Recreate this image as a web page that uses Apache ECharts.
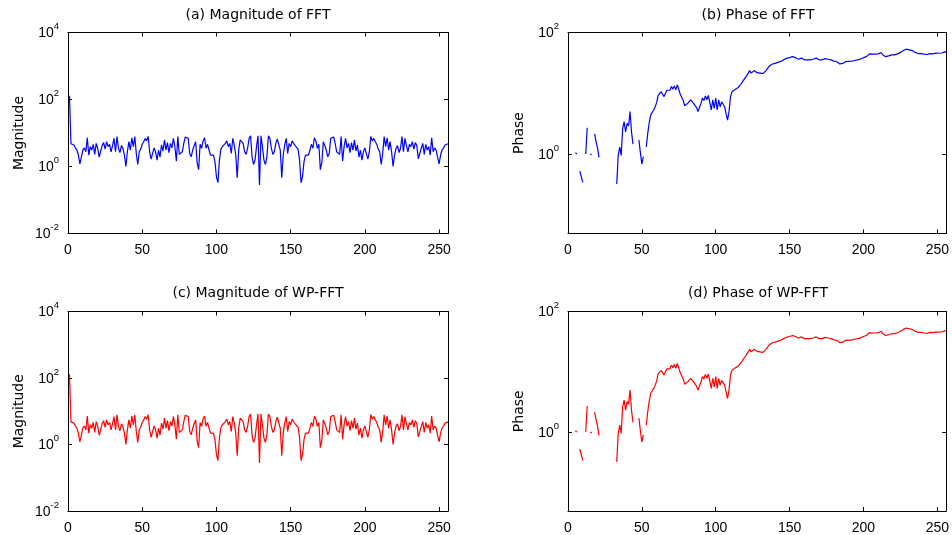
<!DOCTYPE html>
<html><head><meta charset="utf-8">
<script src="https://cdn.jsdelivr.net/npm/echarts@6/dist/echarts.min.js"></script>
<style>html,body{margin:0;padding:0;background:#fff}#c{width:952px;height:535px}</style>
</head><body><div id="c"></div>
<script>
// Magnitude of FFT, bins 1..256
const magnitudeFFT = [
130, 4.8, 4.6, 4.4, 3.6, 3.1, 2.2, 1.2, 1.9, 3.1,
3.6, 2.75, 7.2, 2.2, 3.9, 3.1, 4.6, 2.3, 4.9, 3.5,
1.9, 1.7, 4.2, 5.2, 3.3, 5.5, 3.9, 4.6, 2.75, 4.2,
6.9, 2.75, 7.8, 3.5, 2.6, 4.2, 3.5, 2.2, 1.0, 2.75,
5.5, 3.1, 7.2, 3.9, 7.8, 2.45, 1.15, 2.75, 3.3, 4.6,
5.5, 6.9, 5.8, 7.9, 2.75, 1.65, 2.45, 3.6, 2.75, 1.55,
3.1, 1.9, 4.4, 2.9, 6.2, 3.1, 5.2, 2.6, 4.9, 3.6,
6.9, 3.9, 1.45, 7.8, 2.3, 2.45, 2.75, 4.9, 7.6, 7.2,
6.9, 2.45, 1.95, 3.1, 4.2, 5.5, 1.3, 0.8, 4.6, 3.5,
5.8, 7.2, 3.5, 4.6, 3.1, 2.2, 2.45, 2.2, 1.4, 0.5,
0.33, 1.55, 3.3, 3.9, 4.2, 4.9, 5.8, 3.9, 4.9, 2.45,
6.9, 4.4, 2.2, 0.46, 3.1, 6.2, 6.6, 4.9, 2.75, 2.3,
3.5, 6.9, 8.3, 1.95, 1.15, 1.55, 3.9, 8.3, 0.28,
8.3, 3.9, 1.55, 1.15, 1.95, 8.3, 6.9, 3.5, 2.3, 2.75,
4.9, 6.6, 6.2, 3.1, 0.46, 2.2, 4.4, 6.9, 2.45, 4.9,
3.9, 5.8, 4.9, 4.2, 3.9, 3.3, 1.55, 0.33, 0.5, 1.4,
2.2, 2.45, 2.2, 3.1, 4.6, 3.5, 7.2, 5.8, 3.5, 4.6,
0.8, 1.3, 5.5, 4.2, 3.1, 1.95, 2.45, 6.9, 7.2, 7.6,
4.9, 2.75, 2.45, 2.3, 7.8, 1.45, 3.9, 6.9, 3.6, 4.9,
2.6, 5.2, 3.1, 6.2, 2.9, 4.4, 1.9, 3.1, 1.55, 2.75,
3.6, 2.45, 1.65, 2.75, 7.9, 5.8, 6.9, 5.5, 4.6, 3.3,
2.75, 1.15, 2.45, 7.8, 3.9, 7.2, 3.1, 5.5, 2.75, 1.0,
2.2, 3.5, 4.2, 2.6, 3.5, 7.8, 2.75, 6.9, 4.2, 2.75,
4.6, 3.9, 5.5, 3.3, 5.2, 4.2, 1.7, 1.9, 3.5, 4.9,
2.3, 4.6, 3.1, 3.9, 2.2, 7.2, 2.75, 3.6, 3.1, 1.9,
1.2, 2.2, 3.1, 3.6, 4.4, 4.6, 4.8
];
// Phase of FFT, bins 1..256 (null = not drawn on the log axis)
const phaseFFT = [
null, null, null, null, 1.05, 1.0, null, 0.52, 0.42, 0.34,
null, 1.0, 2.7, null, 1.0, 0.97, null, 2.15, 1.6, 1.25,
0.88, null, null, null, null, null, null, null, null, null,
null, null, 0.32, 0.95, 1.3, 0.95, 2.6, 3.4, 2.3, 3.2,
2.9, 5.0, 2.3, 1.45, null, null, null, 1.7, 1.05, 0.68,
0.9, null, 1.3, 2.2, 3.3, 4.4, 4.2, 5.3, 6.0, 7.0,
9.2, 9.6, 10.6, 10.0, 8.8, 10.0, 11.2, 12.0, 11.2, 12.9,
11.7, 13.2, 11.4, 13.7, 11.5, 9.6, 9.0, 7.6, 6.2, 5.8,
6.8, 6.4, 7.8, 7.3, 6.8, 6.4, 5.8, 5.0, 4.9, 6.8,
8.3, 7.6, 9.0, 7.8, 9.2, 9.3, 5.3, 7.8, 5.6, 8.3,
5.3, 7.8, 6.0, 7.2, 6.6, 6.0, 4.6, 3.6, 5.0, 8.8,
10.6, 11.3, 11.5, 11.6, 12.3, 13.0, 14.0, 15.2, 16.6, 17.8,
19.5, 21.4, 23.6, 21.4, 22.5, 23.6, 24.5, 21.8, 22.6, 21.4,
20.0, 21.0, 22.6, 23.6, 25.0, 27.5, 28.8, 30.0, 30.5, 31.0,
31.6, 32.2, 32.8, 33.4, 34.2, 35.5, 36.0, 37.5, 40.0, 38.5,
38.0, 40.0, 37.9, 38.5, 39.0, 36.3, 37.0, 37.9, 36.5, 35.5,
37.9, 35.5, 34.6, 35.5, 36.0, 36.3, 37.9, 37.9, 37.0, 35.5,
34.6, 35.5, 36.3, 37.2, 36.8, 36.3, 36.3, 35.5, 34.6, 33.8,
33.2, 33.0, 32.5, 30.4, 32.5, 31.0, 32.0, 33.2, 32.5, 33.5,
34.3, 33.6, 33.2, 34.6, 35.0, 35.5, 35.5, 36.5, 37.9, 38.5,
39.0, 40.0, 42.0, 44.5, 44.5, 44.0, 42.8, 44.0, 45.6, 44.5,
45.5, 46.9, 43.0, 41.2, 40.0, 40.6, 41.2, 42.0, 42.8, 42.8,
42.8, 44.0, 44.5, 45.6, 47.0, 48.6, 50.5, 51.8, 53.1, 52.5,
51.8, 51.0, 50.4, 48.6, 47.0, 45.6, 45.0, 46.9, 45.0, 42.8,
44.0, 45.6, 43.5, 42.8, 45.0, 46.9, 44.5, 45.6, 45.6, 46.9,
45.5, 44.5, 46.0, 46.9, 48.0, 47.5
];
// The WP-FFT panels show the same curves as the FFT panels
const magnitudeWPFFT = magnitudeFFT.slice();
const phaseWPFFT = phaseFFT.slice();

const xTicks = [0, 50, 100, 150, 200, 250];
const magTicks = [0.01, 1, 100, 10000];
const phaseTicks = [1, 100];
const titles = ['(a) Magnitude of FFT', '(b) Phase of FFT', '(c) Magnitude of WP-FFT', '(d) Phase of WP-FFT'];
const yNames = ['Magnitude', 'Phase', 'Magnitude', 'Phase'];

const FONT = '"Liberation Sans", Arial, Helvetica, sans-serif';
const TFONT = '"DejaVu Sans", "Liberation Sans", Arial, sans-serif';
const grids = [
  {left: 68, top: 32.5, width: 380, height: 201},
  {left: 568, top: 32.5, width: 380, height: 201},
  {left: 68, top: 311.5, width: 380, height: 200},
  {left: 568, top: 311.5, width: 380, height: 200}
];
const panels = [
  {data: magnitudeFFT, color: '#0000ff', min: 0.01, max: 10000, ticks: magTicks},
  {data: phaseFFT, color: '#0000ff', min: 0.049, max: 100, ticks: phaseTicks},
  {data: magnitudeWPFFT, color: '#ff0000', min: 0.01, max: 10000, ticks: magTicks},
  {data: phaseWPFFT, color: '#ff0000', min: 0.049, max: 100, ticks: phaseTicks}
];

const axisLine = {show: true, onZero: false, lineStyle: {color: '#000', width: 1}};
const xAxes = [], yAxes = [], series = [], title = [];
panels.forEach((p, i) => {
  const g = grids[i];
  xAxes.push({gridIndex: i, type: 'value', min: 0, max: 256, position: 'bottom',
    axisLine, splitLine: {show: false},
    axisTick: {inside: true, length: 4, customValues: xTicks, lineStyle: {color: '#000'}},
    axisLabel: {customValues: xTicks, color: '#000', fontSize: 14, fontFamily: FONT, margin: 10}});
  xAxes.push({gridIndex: i, type: 'value', min: 0, max: 256, position: 'top',
    axisLine, splitLine: {show: false},
    axisTick: {inside: true, length: 4, customValues: xTicks, lineStyle: {color: '#000'}},
    axisLabel: {show: false}});
  yAxes.push({gridIndex: i, type: 'log', logBase: 10, min: p.min, max: p.max, position: 'left',
    axisLine, splitLine: {show: false},
    axisTick: {inside: true, length: 4, customValues: p.ticks, lineStyle: {color: '#000'}},
    axisLabel: {customValues: p.ticks, margin: 9,
      formatter: v => '{b|10}{s|' + Math.round(Math.log10(v)) + '}',
      rich: {
        b: {fontSize: 14, fontFamily: FONT, color: '#000', padding: [2, 0, 0, 0]},
        s: {fontSize: 9.5, fontFamily: FONT, color: '#000', padding: [0, 0, 12, 0]}
      }},
    name: yNames[i], nameLocation: 'middle', nameGap: 42,
    nameTextStyle: {fontSize: 14, fontFamily: TFONT, color: '#000'}});
  yAxes.push({gridIndex: i, type: 'log', logBase: 10, min: p.min, max: p.max, position: 'right',
    axisLine, splitLine: {show: false},
    axisTick: {inside: true, length: 4, customValues: p.ticks, lineStyle: {color: '#000'}},
    axisLabel: {show: false}});
  series.push({type: 'line', xAxisIndex: 2 * i, yAxisIndex: 2 * i,
    data: p.data.map((v, k) => [k + 1, v]),
    showSymbol: false, connectNulls: false, clip: true,
    lineStyle: {color: p.color, width: 1.2}, itemStyle: {color: p.color}});
  title.push({text: titles[i], left: g.left + g.width / 2, top: i < 2 ? 8 : 286.5,
    textAlign: 'center', padding: 0,
    textStyle: {fontSize: 14, fontWeight: 'normal', color: '#000', fontFamily: TFONT}});
});

const chart = echarts.init(document.getElementById('c'), null, {renderer: 'canvas'});
chart.setOption({
  animation: false,
  backgroundColor: '#fff',
  title, grid: grids, xAxis: xAxes, yAxis: yAxes, series
});
</script>
</body></html>
